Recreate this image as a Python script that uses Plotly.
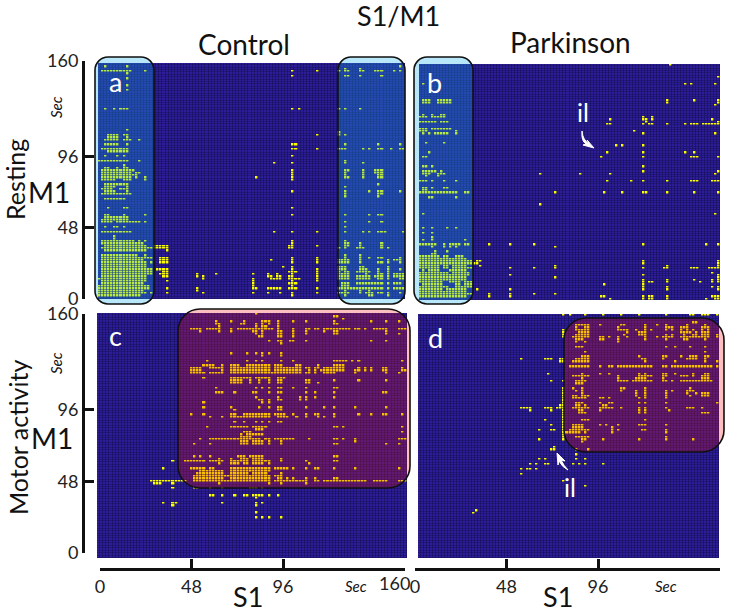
import plotly.graph_objects as go

WIDTH = 731
HEIGHT = 613
N_BINS = 100
BIN_SEC = 1.6

TICKS = [0, 48, 96, 160]

# active bins: row number -> columns (0 is bottom left)
control_rest = {
    98: "2 9 98", 97: "80 85", 96: "1-10 15 63 71 78 80-81 85-86 90-92 96 98", 95: "9",
    94: "63 80-81 85 92", 93: "9", 90: "9", 88: "6 9", 80: "2 5 7-9 63 65 78 80 85",
    71: "9", 70: "78", 69: "3-6 8-9 71 78 80", 68: "3-6 9", 67: "2-6 8-10 13",
    65: "2-6 9 63-64 80 91 98", 63: "1-9 63-64 71 78-80 86 88 91-92 95 98-99",
    62: "3-6 7-9", 60: "2 6 8 63", 58: "0-9 13 80", 57: "57 63 80 86", 56: "8",
    55: "2-3 6 8-9", 54: "1-11 63 80-81 86 90-92", 53: "1-10 12-13 63 80 86 90-92",
    52: "1-12 63 80 86 91-92", 51: "1-10 12 15 51 63 80-81 86 91-92", 50: "1-5 8-10 15 63",
    48: "2-6 7-9 91", 47: "2-5 9 80", 46: "1-4 7-9", 45: "2-5 9 63 80 88 91-92 98",
    44: "1-10 80 91-92", 43: "80 91", 42: "2-8", 38: "3 8-9 63", 35: "2-3 8 15 63 80 88 91-92",
    34: "2-6 7-9", 33: "1-5 6-9", 32: "1-4 6-8 9-13 15 80 88 92", 30: "2 5-6 8 80",
    28: "1-10 57 63 71 80 86 88 91-93 99", 26: "5", 25: "5", 24: "1-7 8-10 11 13 15 63 80",
    23: "1-14 63 80-81 85 92", 22: "2-15 18-22 62-63 71 80-81 85 92",
    21: "1-15 16-18 18-22 62-63 78 80 84-86 92 94", 20: "2-15 22", 18: "1-12 15 80 85",
    17: "1-15 16-17 20-22 63 71 80 85 88 91-92 98", 16: "1-13 14 20-22 56 63 71 78-81 85 94 96-98",
    15: "1-14 15 17 20-22 63 71 78-81 85 91-92 94 98", 14: "1-6 7-9 10-15",
    13: "1-15 60 63 78-80 85-86 94", 12: "1-15 16-17 19-22 63 71 78-80 85-87 91 94 98",
    11: "1-15 16-17 21-22 62-64 71 78 80-81 84-88 91 94",
    10: "1-15 16-17 20-22 32 38 50 55 58 63 71 78-81 87 91-92 94 96-99",
    9: "1-15 21-22 32 34 55-56 58-59 62-63 71 78-81 84-88 90-92 94 96-99",
    8: "0-15 34 50 56-59 62-65 71 78-81 84-88 91-92 94 98-99",
    7: "1-15 22 50 63 71", 6: "1-14 50 62-64 79-81 84-89 90-92 94 96-98",
    5: "0-15 16 50 63 79-81", 4: "0-15 16 22 32 50-51 55-59 62-64 71 78-81 82-89 90-92 94 96-99",
    3: "0-14 32 80 85 88", 2: "0-15 17 22 34 50 55 59 63 71 78-81 85 87-89 91-92 94 98",
    1: "0-13 63 80 88-89 94",
}

parkinson_rest = {
    99: "83", 94: "99", 91: "1 88 90 98", 84: "1-3 6-7 8-10 82 91 99", 83: "1-3 6-10 82 99",
    82: "98", 78: "1 4 7-8", 77: "0-2 4-5 6-8 74 77", 76: "63 74-75 77 97", 75: "0-5 7-9 75 99",
    74: "62-63 74 76-77 82 88 90-92 94-96 97-99", 72: "0-2 4-10", 71: "0-2 12 71",
    70: "1 3 5-9 12 74 98", 66: "2 8", 65: "65 67 74", 62: "3 62 74 88 91", 60: "1-2 60 74 90-92 99",
    56: "1-2 4 74", 54: "1-3 4-5 7 74 99", 53: "1-3 6-8 40 53 63 98", 52: "2 6",
    50: "0-2 4 8 12 62 70 74 82 90-92 97-99", 47: "1-2 4 8-9", 46: "1-2",
    45: "0-12 15-16 45 61 67 74-75 82 91 99", 43: "3-4 12", 40: "40", 36: "1 98", 30: "1 4 9 12",
    28: "1 4", 26: "4", 25: "1 4 15", 23: "0-2 3-5 8 10-13 15-16 23 30 38 74 95 99",
    22: "4 8 10 12 45", 20: "5 9", 19: "4-5", 18: "0-6 8-9 12-14",
    17: "0-6 7-11 12-15", 16: "0-6 7-17 19-20 74 99", 15: "0-2 3-17 18-19 74 99",
    14: "0-2 3-6 8-9 11-15 20 45 82 99", 13: "0-2 3-6 8-9 11-17 30 38 45 74 81-82 90-92 96-99",
    12: "1 3-6 10-15", 11: "0-6 7-9 11-16 97", 10: "0-16 30 74 99", 9: "0-11 12-15 45 99",
    8: "0-11 12-15 74 82 91 97 99", 7: "0-7 10-13 15-17 74 76-77 82 93 97 99",
    6: "1-7 12-13 15-17 61 74", 5: "0-9 12-14 15-17 74 82 97 99", 4: "0-7 9-15 19 30 74 82 99",
    3: "0-11 12-15", 2: "0-17 23 30 38 45", 1: "0-15 23 30 60-61 74 76-77 82 97-99",
    0: "63 74 76-77 82 95 98-99",
}

control_motor = {
    99: "51", 98: "76-77", 97: "79",
    96: "38 43 47 53-55 58 63 67 76 88 93 97", 95: "38-39 46-47 51 53 55 58 76-77",
    94: "39 51 53 54 58", 93: "30-33 35-39 43 45-50 51-54 55-56 58 63 67-68 70-71 73-81 83-84 86 89-93 97-99",
    92: "33 39 43 50 51 53 58-59 63 67 73 76-77 93", 91: "51 53 58-59 63 67 76-77 93 97",
    90: "52-53 58-59 63", 88: "55 58-59 62-63 67 88 93", 87: "59", 83: "43 48 51 53 55 59",
    82: "53 59", 80: "35 48 51 53 59 63 76-80 82 84 98",
    78: "34-37 40 43-45 48-50 51-55 57-59 64-65 71 76-79",
    77: "30-33 36-40 43-55 57-65 67-68 70-71 73-75 76-79 84 86 88 92-93 98",
    76: "30-33 40 43-55 57-65 68 70 72-75 76-79 83-84 86 88 92-93 98-99",
    75: "30-34 36-40 43-55 56-65 67-68 70 73-75 76 83 93 97",
    73: "34 43-45 46-48 49 51 52-55 58-60", 72: "43-46 49 52 55 58-59 67-68 76 84 93",
    71: "43-46 49 52 55 58-59 67-68 71", 69: "38 51 53 55 58-59 63 67 76-77",
    67: "38-40 44 50-51 55 58-59 67 70 76 92-93", 65: "51 58 65 67 70 76",
    64: "52-53 55 58-59 65 67", 63: "34 53 55", 61: "34 43 52 55 58-59 67 73 76 83 93",
    60: "44 58-59", 58: "30 34 43-44 47-48 49-51 52-54 55 57-60 63 67 70-71 76 84 88 92-93 98",
    57: "36 40 43-48 49-51 52-54 55 58-61 64 67 71 73 76", 55: "44 47 51 53 55 58-59",
    53: "35 43-48 50-54 76-77 79 98", 52: "51-53", 51: "47-49 98",
    50: "46 48-49 50-53", 49: "46-49",
    48: "33 36 37-42 43-49 50-52 54-55 57-63 68 76-77 79 83 97-99", 47: "46-48 50-53 55 59 83",
    46: "31 36 46-48 50-53 55 59 76-77 93 97", 41: "31 33 36 45-47 49-53 76-77",
    40: "39 43 46-48 50-53 59", 39: "24 28-34 36-40 43-48 50-55 59 67 76-77", 38: "39 43-45 47-48 50-53 55 68",
    36: "21 30-34 36-37 43-49 50-55 57-61 63 67 70-71 76 83 97", 35: "33-40 43-49 50-55",
    34: "32-40 43-48 50-54 59", 33: "31-42 43-48 49-55 57-59", 32: "31-40 43-48 49-55 58-59 61 63 67 70 76-77",
    31: "17-27 28 31-40 41-55 57-66 67 70-71 73-85 86 89 90-93 97-99", 30: "18-20 24 39 55 59 67",
    28: "24 31-32 36 40 49-51 53", 25: "36-37 40 44 47-48 50-52 53 55 58", 24: "51",
    22: "21 24-25 40 51 53", 21: "24 51", 18: "51", 16: "51 53 55 59",
}

parkinson_motor = {
    99: "48 50 55 61 67 73 82 90-91 94-96 99", 96: "91-92",
    95: "52-56 60 67-68 75 79 82 89 95", 94: "52 55-56 66 75 82-84 87-89 94-96",
    93: "48 52-56 66-69 72 75 77 82 84 87 89 91 94 96", 92: "48 53-56 69 73-74 75 87-90 92 94-96",
    91: "48 52-56 68 73-75 82 84 88 91-92 94-96 99",
    90: "48 51-56 60-61 63 66 69 75 79 81-84 87-90 91-96 99", 89: "52-54 60-61 66 75 82 88-89 95",
    88: "52 55 66", 86: "52-54 82 85 90 95", 84: "55 95", 82: "54-56 73 81-82 87 90-92 95-96",
    81: "34 42-44 47-48 52-56 74-75 81 89-92 95", 80: "47-48 51-56 75 85 95 99",
    78: "50-56 60 63-64 66-70 71-77 81-82 84-86 87-97 99", 75: "43 54 60 63 73 75 81-82 85 91 95-96",
    74: "51-56 66 73-77 81-82 87-89 91 94-96", 73: "54 66 72-75 81 94-96",
    72: "44 48 52-55 66-69 71-77 81-82 84 87-97", 71: "52-54",
    69: "48 51 54 67-68 75 90", 68: "48 52 54 67 72 75 82 84 89-91", 67: "48 54 72 75 82 89 92 94-96",
    66: "48 51-52 54-56 72 75 82 90 94-96", 65: "48 51-55 60-61 63 73 75 82",
    64: "48", 63: "48 52-54 60 63-64 73 75 82 99", 62: "47-48 52-53 55 61-62",
    61: "34 35-37 42-44 46-48 51-56 60-64 67 73 75 82 89-91 94", 60: "37 44 48 53-54 60 73 75 83",
    59: "48 53-55 73 75 94-96", 58: "48", 57: "48", 56: "42 48 54-56 75", 55: "48",
    54: "44 48 51-54 60 62 66 73-75 82", 53: "48 51-54 64", 52: "40 44-45 48 50-56 64 66 74-75 82",
    51: "48 49 50-53 55 64 82", 50: "48", 49: "48 52-56 82", 48: "40 48 54-55 61 73 82 91",
    47: "54", 45: "45", 44: "44-45 52 56", 42: "52", 40: "40 42 52 55",
    38: "37 39 42-43 51 53 55 61", 36: "34 36-37 39", 34: "34", 31: "48", 29: "55",
    19: "19", 18: "18",
}


def to_grid(rows):
    grid = [[0] * N_BINS for _ in range(N_BINS)]
    for row, cols in rows.items():
        for part in cols.split():
            first, _, last = part.partition("-")
            for col in range(int(first), int(last or first) + 1):
                grid[row][col] = 1
    return grid


def xf(px):
    return px / WIDTH


def yf(px):
    return 1 - px / HEIGHT


def rounded_box(x0, y0, x1, y1, r, fill):
    # rounded corners in page pixels, cubic beziers on paper coordinates
    k = r * 0.45
    p = lambda x, y: f"{xf(x):.5f},{yf(y):.5f}"
    path = (
        f"M{p(x0 + r, y0)} L{p(x1 - r, y0)} C{p(x1 - k, y0)} {p(x1, y0 + k)} {p(x1, y0 + r)} "
        f"L{p(x1, y1 - r)} C{p(x1, y1 - k)} {p(x1 - k, y1)} {p(x1 - r, y1)} "
        f"L{p(x0 + r, y1)} C{p(x0 + k, y1)} {p(x0, y1 - k)} {p(x0, y1 - r)} "
        f"L{p(x0, y0 + r)} C{p(x0, y0 + k)} {p(x0 + k, y0)} {p(x0 + r, y0)} Z"
    )
    return dict(
        type="path", xref="paper", yref="paper", path=path,
        fillcolor=fill, line=dict(color="#111111", width=1.6),
    )


def label(text, x, y, size, color="#111111", angle=0, italic=False, family="Lato"):
    fig.add_annotation(
        text=f"<i>{text}</i>" if italic else text,
        x=xf(x), y=yf(y), xref="paper", yref="paper",
        xanchor="center", yanchor="middle", showarrow=False, textangle=angle,
        font=dict(family=family, size=size, color=color),
    )


fig = go.Figure()

CELL_COLOR = "#2f1c98"
ON_COLOR = "#ffff00"
GRID_COLOR = "#14125a"
CYAN_BOX = "rgba(20,175,240,0.30)"
RED_BOX = "rgba(236,20,15,0.27)"

panels = [
    (control_rest, (98, 405), (63, 299)),
    (parkinson_rest, (419, 720), (64, 300)),
    (control_motor, (97, 407), (313, 558)),
    (parkinson_motor, (418, 719), (314, 558)),
]

# dark lines between the bins come from a backing rectangle showing through the gaps
shapes = []
axis_style = dict(visible=False, range=[0, 160], fixedrange=True, automargin=False)
for i, (rows, (left, right), (top, bottom)) in enumerate(panels, start=1):
    suffix = "" if i == 1 else str(i)
    fig.add_trace(go.Heatmap(
        z=to_grid(rows), x0=BIN_SEC / 2, dx=BIN_SEC, y0=BIN_SEC / 2, dy=BIN_SEC,
        xaxis=f"x{suffix}", yaxis=f"y{suffix}",
        colorscale=[[0, CELL_COLOR], [1, ON_COLOR]], zmin=0, zmax=1,
        showscale=False, xgap=0.6, ygap=0.5, hoverinfo="skip",
    ))
    fig.update_layout({
        f"xaxis{suffix}": dict(axis_style, domain=[xf(left), xf(right)], anchor=f"y{suffix}"),
        f"yaxis{suffix}": dict(axis_style, domain=[yf(bottom), yf(top)], anchor=f"x{suffix}"),
    })
    shapes.append(dict(
        type="rect", xref="paper", yref="paper", layer="below", line=dict(width=0),
        x0=xf(left), x1=xf(right), y0=yf(bottom), y1=yf(top), fillcolor=GRID_COLOR,
    ))

# the drawn axes sit apart from the panels, each pair holds an empty trace
frame = dict(
    range=[0, 160], tickmode="array", tickvals=TICKS, ticks="inside", ticklen=9, tickwidth=3,
    tickcolor="#111111", showline=True, linewidth=3, linecolor="#111111", showgrid=False,
    zeroline=False, fixedrange=True, anchor="free", automargin=False,
    tickfont=dict(family="Lato", size=18, color="#222222"),
)
hidden = dict(axis_style, domain=[0, 1])
for n, (top, bottom) in [(5, (61, 299)), (6, (314, 553))]:
    fig.add_trace(go.Scatter(x=[0, 160], y=[0, 160], xaxis=f"x{n}", yaxis=f"y{n}", mode="lines",
                             line=dict(width=0), hoverinfo="skip", showlegend=False))
    fig.update_layout({
        f"xaxis{n}": dict(hidden, anchor=f"y{n}"),
        f"yaxis{n}": dict(frame, domain=[yf(bottom), yf(top)], position=xf(83)),
    })
for n, (left, right), labels in [
    (7, (100, 405), ["0", "48", "96", ""]),
    (8, (415, 720), ["0", "48", "96", "160"]),
]:
    fig.add_trace(go.Scatter(x=[0, 160], y=[0, 160], xaxis=f"x{n}", yaxis=f"y{n}", mode="lines",
                             line=dict(width=0), hoverinfo="skip", showlegend=False))
    fig.update_layout({
        f"xaxis{n}": dict(frame, domain=[xf(left), xf(right)], position=yf(569), ticktext=labels),
        f"yaxis{n}": dict(hidden, anchor=f"x{n}"),
    })

fig.update_layout(
    width=WIDTH, height=HEIGHT, margin=dict(l=0, r=0, t=0, b=0),
    paper_bgcolor="white", plot_bgcolor="rgba(0,0,0,0)", showlegend=False,
    shapes=shapes + [
        rounded_box(95, 57, 154, 304, 13, CYAN_BOX),
        rounded_box(338, 57, 405, 304, 13, CYAN_BOX),
        rounded_box(414, 57, 473, 304, 13, CYAN_BOX),
        rounded_box(178, 309, 410, 488, 22, RED_BOX),
        rounded_box(564, 318, 724, 452, 22, RED_BOX),
        # curved arrows next to the il labels
        dict(type="path", xref="paper", yref="paper", fillcolor="white", line=dict(color="white", width=1),
             path=f"M{xf(582)},{yf(131)} Q{xf(583)},{yf(141)} {xf(589)},{yf(143)} L{xf(587)},{yf(140)} "
                  f"L{xf(594)},{yf(148)} L{xf(583)},{yf(145)} L{xf(586)},{yf(144)} Q{xf(581)},{yf(141)} {xf(582)},{yf(131)} Z"),
        dict(type="path", xref="paper", yref="paper", fillcolor="white", line=dict(color="white", width=1),
             path=f"M{xf(568)},{yf(470)} Q{xf(562)},{yf(467)} {xf(559)},{yf(461)} L{xf(558)},{yf(465)} "
                  f"L{xf(557)},{yf(453)} L{xf(565)},{yf(461)} L{xf(561)},{yf(460)} Q{xf(564)},{yf(466)} {xf(568)},{yf(470)} Z"),
    ],
)

label("S1/M1", 398, 15, 27)
label("Control", 244, 44, 28)
label("Parkinson", 570, 42, 28)
label("Resting", 15, 180, 25, angle=-90)
label("Motor activity", 18, 438, 25, angle=-90)
label("M1", 49, 192, 28)
label("M1", 52, 438, 28)
label("S1", 248, 596, 27)
label("S1", 558, 596, 27)
label("Sec", 56, 107, 15, angle=-90, italic=True)
label("Sec", 56, 363, 15, angle=-90, italic=True)
label("Sec", 356, 586, 15, italic=True)
label("Sec", 666, 586, 15, italic=True)
label("160", 394, 583, 18, color="#222222")
label("a", 115, 82, 27, color="white")
label("b", 434, 83, 27, color="white")
label("c", 115, 335, 27, color="white")
label("d", 435, 337, 27, color="white")
label("il", 583, 112, 25, color="white")
label("il", 570, 487, 25, color="white")

fig.write_html("out.html", config=dict(displayModeBar=False),
               post_script="document.body.style.margin='0';")
